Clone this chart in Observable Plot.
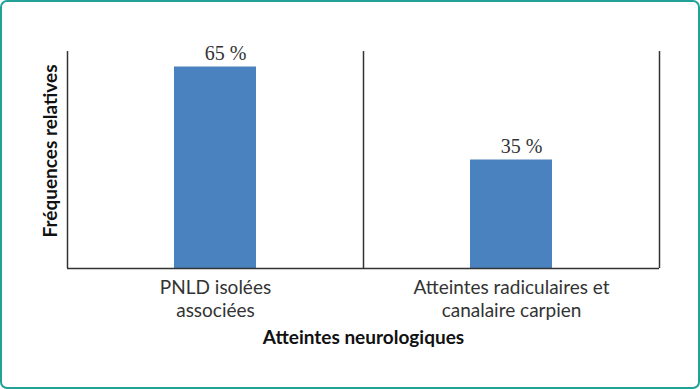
<!DOCTYPE html>
<html>
<head>
<meta charset="utf-8">
<script src="https://cdn.jsdelivr.net/npm/d3@7"></script>
<script src="https://cdn.jsdelivr.net/npm/@observablehq/plot@0.6"></script>
<style>
  html, body { margin: 0; padding: 0; background: white; }
  #wrap { position: relative; width: 700px; height: 389px; overflow: hidden; }
  #border { position: absolute; left: 0; top: 0; width: 700px; height: 389px; box-sizing: border-box;
            border: 2px solid #22a199; border-radius: 7px; pointer-events: none; }
</style>
</head>
<body>
<div id="wrap"><div id="border"></div></div>
<script>
const categories = ["PNLD isolées\nassociées", "Atteintes radiculaires et\ncanalaire carpien"];
const values = [65, 35];
const valueLabels = ["65 %", "35 %"];
const xTitle = "Atteintes neurologiques";
const yTitle = "Fréquences relatives";
const yMax = 70;

const data = categories.map((c, i) => ({cat: c, v: values[i], label: valueLabels[i]}));

const W = 700, H = 389, mL = 67, mR = 41, mT = 51, mB = 121;
const step = (W - mL - mR) / categories.length;

const chart = Plot.plot({
  width: W,
  height: H,
  marginLeft: mL,
  marginRight: mR,
  marginTop: mT,
  marginBottom: mB,
  style: {fontFamily: "Lato", background: "transparent", color: "#333"},
  x: {domain: categories, padding: 0, label: null},
  y: {domain: [0, yMax], axis: null},
  marks: [
    Plot.barY(data, {x: "cat", y: "v", fill: "#4a82c0", insetLeft: 107, insetRight: 107}),
    // band edges: left axis line and separators
    Plot.ruleX(categories, {x: d => d, y1: 0, y2: yMax, dx: -step / 2, stroke: "#333", strokeWidth: 1.5}),
    // right edge
    Plot.ruleX(categories.slice(-1), {x: d => d, y1: 0, y2: yMax, dx: step / 2, stroke: "#333", strokeWidth: 1.5}),
    Plot.ruleY([0], {stroke: "#333", strokeWidth: 1.5}),
    Plot.text(data, {x: "cat", y: "v", text: "label", dx: 10, dy: -7, lineAnchor: "bottom",
      fontFamily: "Liberation Serif", fontSize: 20, fill: "#333"}),
    Plot.axisX({tickSize: 0, tickPadding: 8, fontSize: 19, lineHeight: 1.26, label: null, fill: "#333"}),
    Plot.text([xTitle], {frameAnchor: "bottom", dy: 69, lineAnchor: "middle",
      fontSize: 19, fontWeight: "bold", fill: "#111"}),
    Plot.text([yTitle], {frameAnchor: "left", rotate: -90, textAnchor: "middle", dx: -17, dy: -9,
      fontSize: 19, fontWeight: "bold", fill: "#111"})
  ]
});
document.getElementById("wrap").prepend(chart);
</script>
</body>
</html>
